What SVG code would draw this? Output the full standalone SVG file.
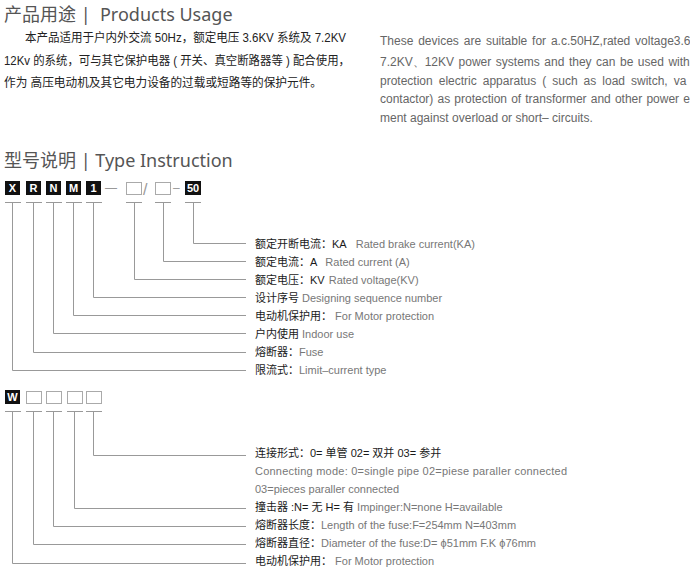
<svg xmlns="http://www.w3.org/2000/svg" width="690" height="583" viewBox="0 0 690 583">
<style>
.title{font-family:"Noto Sans","Noto Sans CJK SC",sans-serif;font-size:18px;fill:#555}
.zh{font-family:"Liberation Sans","Noto Sans CJK SC",sans-serif;font-size:12px;fill:#222}
.en{font-family:"Liberation Sans",Arial,sans-serif;font-size:12px;fill:#666}
.lab{font-family:"Liberation Sans","Noto Sans CJK SC",sans-serif;font-size:11px;fill:#1a1a1a}
.lab .e{fill:#777}
.blk{fill:#111}
.bt{font-family:"Liberation Sans",Arial,sans-serif;font-size:11px;font-weight:bold;fill:#fff;text-anchor:middle}
.emp{fill:#fff;stroke:#aaa;stroke-width:1}
.sep{font-family:"Liberation Sans",Arial,sans-serif;font-size:12px;fill:#999}
.con{fill:none;stroke:#999;stroke-width:1}
</style>
<rect width="690" height="583" fill="#fff"/>
<g id="usage">
<text class="title" x="4" y="21" xml:space="preserve">产品用途 |  Products Usage</text>
<text class="zh" x="25" y="42" textLength="321" lengthAdjust="spacingAndGlyphs">本产品适用于户内外交流 50Hz，额定电压 3.6KV 系统及 7.2KV</text>
<text class="zh" x="4" y="65" textLength="346" lengthAdjust="spacingAndGlyphs">12Kv 的系统，可与其它保护电器 ( 开关、真空断路器等 ) 配合使用，</text>
<text class="zh" x="4" y="87" textLength="318" lengthAdjust="spacingAndGlyphs">作为 高压电动机及其它电力设备的过载或短路等的保护元件。</text>
<text class="en" x="380" y="45" word-spacing="1.5">These devices are suitable for a.c.50HZ,rated voltage3.6</text>
<text class="en" x="380" y="66" word-spacing="1.2">7.2KV、12KV power systems and they can be used with</text>
<text class="en" x="380" y="85" word-spacing="2.7">protection electric apparatus ( such as load switch, va</text>
<text class="en" x="380" y="103" word-spacing="0.8">contactor) as protection of transformer and other power e</text>
<text class="en" x="380" y="122">ment against overload or short– circuits.</text>
</g>
<g id="type-title">
<text class="title" x="4" y="167" xml:space="preserve">型号说明 | Type Instruction</text>
</g>
<g id="code-xrnm">
<rect class="blk" x="5" y="181" width="15" height="14"/><text class="bt" x="12.5" y="192">X</text>
<rect class="blk" x="26" y="181" width="15" height="14"/><text class="bt" x="33.5" y="192">R</text>
<rect class="blk" x="46" y="181" width="15" height="14"/><text class="bt" x="53.5" y="192">N</text>
<rect class="blk" x="66" y="181" width="15" height="14"/><text class="bt" x="73.5" y="192">M</text>
<rect class="blk" x="86" y="181" width="15" height="14"/><text class="bt" x="93.5" y="192">1</text>
<text class="sep" x="105" y="192">—</text>
<rect class="emp" x="126.5" y="182.5" width="15" height="12"/>
<text class="sep" x="143" y="195" style="font-size:16px">/</text>
<rect class="emp" x="155.5" y="182.5" width="15" height="12"/>
<text class="sep" x="173" y="192">–</text>
<rect class="blk" x="185" y="181" width="16" height="14"/><text class="bt" x="193" y="192">50</text>
</g>
<g id="labels-xrnm" class="lab">
<text x="255" y="248">额定开断电流：KA<tspan class="e" dx="9">Rated brake current(KA)</tspan></text>
<text x="255" y="266">额定电流：A<tspan class="e" dx="8">Rated current (A)</tspan></text>
<text x="255" y="284">额定电压：KV<tspan class="e" dx="4">Rated voltage(KV)</tspan></text>
<text x="255" y="302">设计序号 <tspan class="e">Designing sequence number</tspan></text>
<text x="255" y="320">电动机保护用： <tspan class="e">For Motor protection</tspan></text>
<text x="255" y="338">户内使用 <tspan class="e">Indoor use</tspan></text>
<text x="255" y="356">熔断器：<tspan class="e">Fuse</tspan></text>
<text x="255" y="374">限流式：<tspan class="e">Limit–current type</tspan></text>
</g>
<g id="code-w">
<rect class="blk" x="5" y="390" width="15" height="14"/><text class="bt" x="12.5" y="401">W</text>
<rect class="emp" x="26.5" y="391.5" width="15" height="12"/>
<rect class="emp" x="46.5" y="391.5" width="15" height="12"/>
<rect class="emp" x="67.5" y="391.5" width="15" height="12"/>
<rect class="emp" x="86.5" y="391.5" width="15" height="12"/>
</g>
<g id="labels-w" class="lab">
<text x="255" y="457">连接形式：0= 单管 02= 双并 03= 参并</text>
<text x="255" y="475" class="e" textLength="312" lengthAdjust="spacing">Connecting mode: 0=single pipe 02=piese paraller connected</text>
<text x="255" y="493" class="e">03=pieces paraller connected</text>
<text x="255" y="511">撞击器 :N= 无 H= 有 <tspan class="e">Impinger:N=none H=available</tspan></text>
<text x="255" y="529">熔断器长度：<tspan class="e">Length of the fuse:F=254mm N=403mm</tspan></text>
<text x="255" y="547">熔断器直径：<tspan class="e">Diameter of the fuse:D= ϕ51mm F.K ϕ76mm</tspan></text>
<text x="255" y="565">电动机保护用： <tspan class="e">For Motor protection</tspan></text>
</g>
<g id="connectors" class="con">
<path d="M5,202.5H21M26,202.5H42M46,202.5H62M66,202.5H82M86,202.5H102M126,202.5H142M155,202.5H171M185,202.5H201"/>
<path d="M193.5,202.5V243.5H246"/>
<path d="M163.5,202.5V261.5H246"/>
<path d="M134.5,202.5V279.5H246"/>
<path d="M93.5,202.5V297.5H246"/>
<path d="M73.5,202.5V315.5H246"/>
<path d="M53.5,202.5V333.5H246"/>
<path d="M33.5,202.5V352.5H246"/>
<path d="M12.5,202.5V370.5H246"/>
<path d="M5,411.5H21M26,411.5H42M46,411.5H62M67,411.5H83M86,411.5H102"/>
<path d="M93.5,411.5V455.5H246"/>
<path d="M74.5,411.5V508.5H246"/>
<path d="M53.5,411.5V526.5H246"/>
<path d="M33.5,411.5V544.5H246"/>
<path d="M12.5,411.5V563.5H246"/>
</g>
</svg>
